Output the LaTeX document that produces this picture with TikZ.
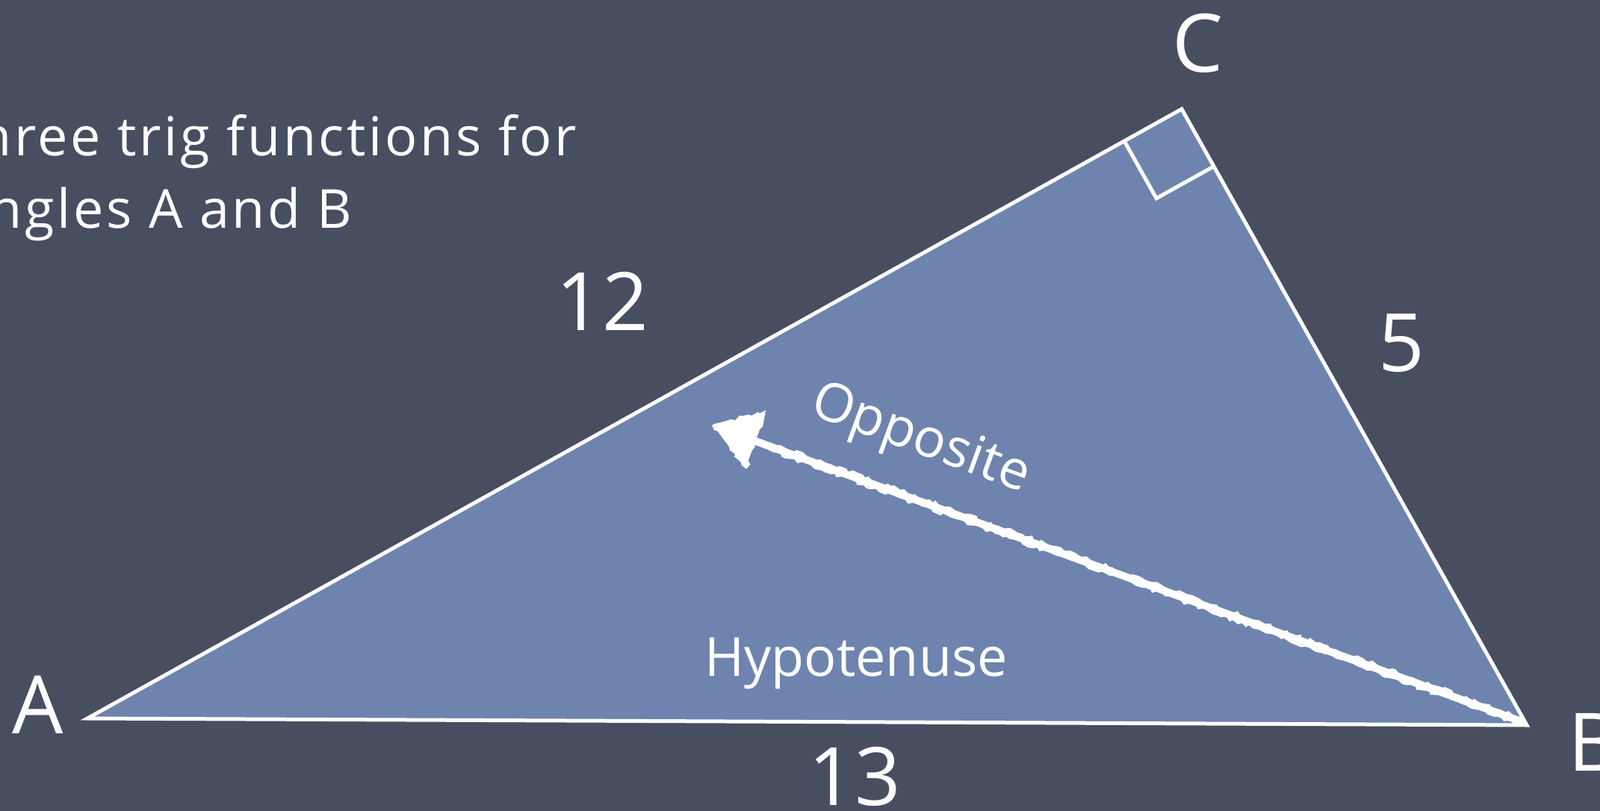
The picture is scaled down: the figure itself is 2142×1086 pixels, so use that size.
\documentclass[tikz,border=0pt]{standalone}
\usepackage{fontspec}
\setmainfont{Open Sans}
\usetikzlibrary{calc,arrows.meta,decorations.pathmorphing}
\definecolor{board}{RGB}{71,78,95}
\definecolor{trifill}{RGB}{110,132,174}
\tikzset{
  lbl/.style={text=white,inner sep=0pt,font=\fontsize{54}{60}\selectfont},
  mid/.style={text=white,inner sep=0pt,font=\fontsize{36}{40}\selectfont},
  top/.style={text=white,inner sep=0pt,font=\fontsize{36}{40}\selectfont\addfontfeature{LetterSpace=5}},
  side/.style={draw=white,line width=2.5pt,line join=miter},
  chalk/.style={white,line width=5pt,line cap=round},
  rough/.style={white,line width=1.4pt,decorate,decoration={random steps,segment length=3pt,amplitude=1.4pt}},
}
\begin{document}
\begin{tikzpicture}[x=0.5pt,y=-0.5pt]
\useasboundingbox (0,0) rectangle (2142,1086);
\fill[board] (0,0) rectangle (2142,1086);
\clip (0,0) rectangle (2142,1086);
\coordinate (A) at (117,962);
\coordinate (B) at (2044,971);
\coordinate (C) at (1582,146);
\fill[trifill] (A) -- (C) -- (B) -- cycle;
\draw[side] (A) -- (C) -- (B) -- cycle;
\coordinate (RA) at ($(C)!44pt!(A)$);
\coordinate (RB) at ($(C)!44pt!(B)$);
\coordinate (RI) at ($(RA)+(RB)-(C)$);
\draw[side] (RA) -- (RI) -- (RB);
% chalk arrow
\coordinate (oppS) at (2036,966);
\coordinate (oppE) at (955,570);
\draw[chalk,-{Triangle[length=30pt,width=38pt]}] (oppS) -- (oppE);
\draw[rough] ($(oppS)+(1,-4)$) -- ($(oppS)!0.93!(oppE)+(1,-4)$);
\draw[rough] ($(oppS)+(-1,4)$) -- ($(oppS)!0.93!(oppE)+(-1,4)$);
\filldraw[rough,fill=white] (oppE) -- ($(oppE)+(68,-18)$) -- ($(oppE)+(44,56)$) -- cycle;
% labels
\node[lbl,anchor=base] (lC) at (1604,97) {C};
\node[lbl,anchor=base] (lA) at (51,982) {A};
\node[lbl,anchor=base west] (lB) at (2099,1032) {B};
\node[lbl,anchor=base] (l12) at (806,442) {12};
\node[lbl,anchor=base] (l5) at (1876,497) {5};
\node[lbl,anchor=base] (l13) at (1144,1078) {13};
\node[mid,anchor=base] (hyp) at (1146,905) {Hypotenuse};
\node[mid,rotate=-20] (opp) at (1232,590) {Opposite};
\node[top,anchor=base east] (t1) at (772,208) {hree trig functions for};
\node[top,anchor=base east] (t2) at (472,305) {ngles A and B};
\end{tikzpicture}
\end{document}
